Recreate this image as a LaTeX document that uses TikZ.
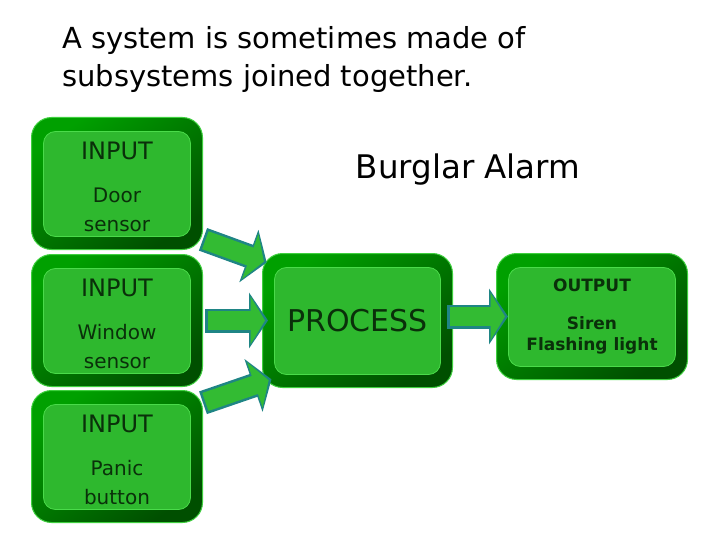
\documentclass[tikz,border=0pt]{standalone}
\usepackage{fontspec}
\setmainfont{DejaVu Sans}
\usetikzlibrary{arrows.meta,positioning}
\definecolor{framelt}{HTML}{00A000}
\definecolor{framedk}{HTML}{004F00}
\definecolor{rimc}{HTML}{3FD03F}
\definecolor{boxfill}{HTML}{2EB82E}
\definecolor{boxline}{HTML}{4ADB4A}
\definecolor{txtc}{HTML}{0A300A}
\definecolor{arfill}{HTML}{33BB33}
\definecolor{arline}{HTML}{1F8585}
\tikzset{
  box/.style={rectangle,rounded corners=20pt,draw=rimc,line width=1pt,
    top color=framelt,bottom color=framedk,shading angle=35,
    inner sep=0pt,align=center,text=txtc,
    path picture={\draw[boxline,fill=boxfill,line width=0.8pt,rounded corners=12pt]
      ([shift={(12pt,-14pt)}]path picture bounding box.north west) rectangle
      ([shift={(-12pt,13pt)}]path picture bounding box.south east);}},
  inbox/.style={box,minimum width=171pt,minimum height=132pt,font=\fontsize{20}{24}\selectfont},
  arout/.style={draw=arline,line width=24pt,-{Triangle[length=19pt,width=55pt]}},
  arin/.style={draw=arfill,line width=19pt,-{Triangle[length=14.5pt,width=47pt]}}
}
\begin{document}
\begin{tikzpicture}[x=1pt,y=-1pt]
\fill[white] (0,0) rectangle (720,540);
\useasboundingbox (0,0) rectangle (720,540);
\node[anchor=north west,inner sep=0pt,align=left,font=\fontsize{29}{38}\selectfont] (title) at (62,26) {A system is sometimes made of\\subsystems joined together.};
\node[font=\fontsize{32.5}{38}\selectfont] (alarm) at (468,170) {Burglar Alarm};
% inputs
\node[inbox] (in1) at (117,183.5) {\rule{0pt}{25pt}{\fontsize{24}{24}\selectfont INPUT}\\[19pt]Door\\[5pt]sensor};
\node[inbox,below=4pt of in1] (in2) {\rule{0pt}{25pt}{\fontsize{24}{24}\selectfont INPUT}\\[19pt]Window\\[5pt]sensor};
\node[inbox,below=3pt of in2] (in3) {\rule{0pt}{25pt}{\fontsize{24}{24}\selectfont INPUT}\\[19pt]Panic\\[5pt]button};
\node[box,minimum width=190pt,minimum height=134pt,font=\fontsize{30}{36}\selectfont] (proc) at (357.5,320.5) {PROCESS};
\node[box,minimum width=191pt,minimum height=126pt,font=\bfseries\fontsize{17}{21}\selectfont] (out) at (592,316.5) {OUTPUT\\[17pt]Siren\\Flashing light};
% block arrows
\foreach \a/\b/\s/\e in {in1.-33/proc.148/0/5, in2/proc/2/6, in3.32/proc.213/0/10, proc.east |- out/out/-6/12}{
  \draw[arout,shorten <=\s pt,shorten >=-\e pt] (\a) -- (\b);
  \draw[arin,shorten <={(\s+2.5)*1pt},shorten >={(-\e+3)*1pt}] (\a) -- (\b);
}
\end{tikzpicture}
\end{document}
